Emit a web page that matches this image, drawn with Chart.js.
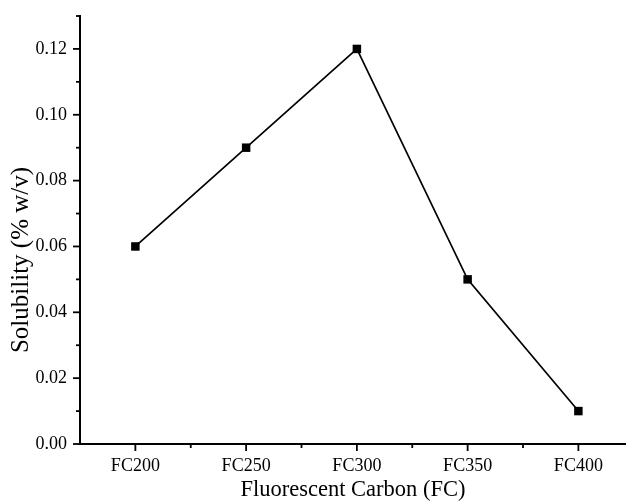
<!DOCTYPE html>
<html>
<head>
<meta charset="utf-8">
<script src="https://cdn.jsdelivr.net/npm/chart.js@4/dist/chart.umd.min.js"></script>
<style>
  html, body { margin: 0; padding: 0; background: #fff; overflow: hidden; }
  #wrap { width: 626px; height: 504px; }
  canvas { display: block; }
</style>
</head>
<body>
<div id="wrap"><canvas id="myChart"></canvas></div>
<script>
var categories = ['FC200', 'FC250', 'FC300', 'FC350', 'FC400'];
var solubility = [0.06, 0.09, 0.12, 0.05, 0.01];
var yTicks = [0.00, 0.02, 0.04, 0.06, 0.08, 0.10, 0.12];
var yTitle = 'Solubility (% w/v)';

var points = categories.map(function (c, i) {
    return { x: i, y: solubility[i] };
});

// tick marks: long for labelled ticks, short for minor ones
// plus the y title, which sits lower than the axis centre in the original
var tickMarks = {
    id: 'tickMarks',
    afterDraw: function (chart) {
        var c = chart.ctx;
        var area = chart.chartArea;
        c.save();
        c.strokeStyle = '#000';
        c.lineWidth = 1.8;
        chart.scales.y.ticks.forEach(function (t) {
            var py = chart.scales.y.getPixelForValue(t.value);
            var len = t.label !== '' ? 7 : 4;
            c.beginPath();
            c.moveTo(area.left - len, py);
            c.lineTo(area.left, py);
            c.stroke();
        });
        chart.scales.x.ticks.forEach(function (t) {
            if (t.value <= chart.scales.x.min) return;
            var px = chart.scales.x.getPixelForValue(t.value);
            var len = t.label !== '' ? 7 : 4;
            c.beginPath();
            c.moveTo(px, area.bottom);
            c.lineTo(px, area.bottom + len);
            c.stroke();
        });
        c.translate(21, 260);
        c.rotate(-Math.PI / 2);
        c.fillStyle = '#000';
        c.font = '25px "Liberation Serif"';
        c.textAlign = 'center';
        c.textBaseline = 'middle';
        c.fillText(yTitle, 0, 0);
        c.restore();
    }
};

var ctx = document.getElementById('myChart').getContext('2d');
var myChart = new Chart(ctx, {
    type: 'line',
    data: {
        datasets: [{
            label: 'Solubility',
            data: points,
            borderColor: '#000',
            backgroundColor: '#000',
            borderWidth: 1.7,
            pointStyle: 'rect',
            pointRadius: 6,
            pointBorderWidth: 0,
            tension: 0
        }]
    },
    options: {
        responsive: true,
        maintainAspectRatio: false,
        animation: false,
        layout: { autoPadding: false, padding: { top: 16, right: 0, left: 0, bottom: 0 } },
        plugins: {
            legend: { display: false },
            tooltip: { enabled: false }
        },
        scales: {
            x: {
                type: 'linear',
                min: -0.5,
                max: 4.43,
                afterFit: function (s) {
                    s.height = 60;
                    s.paddingLeft = 0;
                    s.paddingRight = 0;
                },
                grid: { display: false, drawTicks: false },
                border: { color: '#000', width: 2 },
                ticks: {
                    stepSize: 0.5,
                    includeBounds: false,
                    autoSkip: false,
                    maxRotation: 0,
                    padding: 11,
                    color: '#000',
                    font: { family: 'Liberation Serif', size: 18 },
                    callback: function (v) {
                        return Number.isInteger(v) ? categories[v] : '';
                    }
                },
                title: {
                    display: true,
                    text: 'Fluorescent Carbon (FC)',
                    color: '#000',
                    font: { family: 'Liberation Serif', size: 22.5 },
                    padding: { top: 0, bottom: 0 }
                }
            },
            y: {
                min: 0,
                max: 0.13,
                afterFit: function (s) {
                    s.width = 80;
                    s.paddingTop = 0;
                    s.paddingBottom = 0;
                },
                grid: { display: false, drawTicks: false },
                border: { color: '#000', width: 2 },
                ticks: {
                    stepSize: 0.01,
                    includeBounds: false,
                    autoSkip: false,
                    padding: 13,
                    color: '#000',
                    font: { family: 'Liberation Serif', size: 18 },
                    callback: function (v) {
                        var hit = yTicks.find(function (t) { return Math.abs(t - v) < 1e-6; });
                        return hit !== undefined ? hit.toFixed(2) : '';
                    }
                }
            }
        }
    },
    plugins: [tickMarks]
});
</script>
</body>
</html>
